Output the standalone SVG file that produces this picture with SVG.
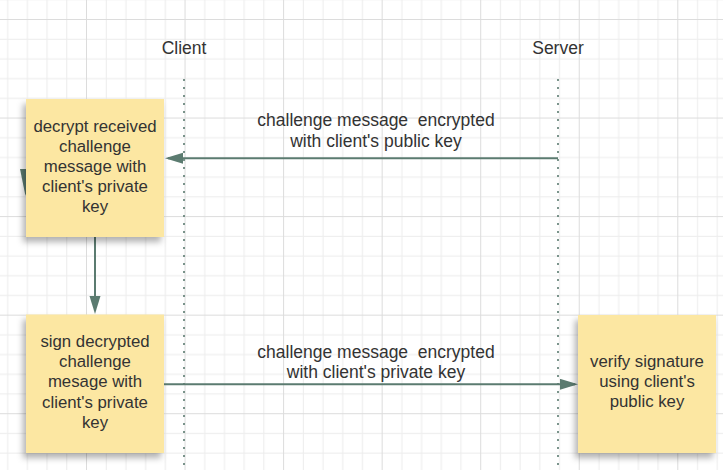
<svg xmlns="http://www.w3.org/2000/svg" width="723" height="470" viewBox="0 0 723 470">
  <defs>
    <pattern id="grid" patternUnits="userSpaceOnUse" x="86" y="19" width="98.55" height="98.55">
      <rect x="19.71" y="0" width="1" height="98.55" fill="#ececec"/>
      <rect x="39.42" y="0" width="1" height="98.55" fill="#ececec"/>
      <rect x="59.13" y="0" width="1" height="98.55" fill="#ececec"/>
      <rect x="78.84" y="0" width="1" height="98.55" fill="#ececec"/>
      <rect x="0" y="19.71" width="98.55" height="1" fill="#ececec"/>
      <rect x="0" y="39.42" width="98.55" height="1" fill="#ececec"/>
      <rect x="0" y="59.13" width="98.55" height="1" fill="#ececec"/>
      <rect x="0" y="78.84" width="98.55" height="1" fill="#ececec"/>
      <rect x="0" y="0" width="1" height="98.55" fill="#dcdcdc"/>
      <rect x="0" y="0" width="98.55" height="1" fill="#dcdcdc"/>
    </pattern>
    <filter id="shadow" x="-20%" y="-20%" width="140%" height="140%">
      <feDropShadow dx="-3" dy="5" stdDeviation="3" flood-color="#000" flood-opacity="0.3"/>
    </filter>
    <marker id="arrow" markerUnits="userSpaceOnUse" markerWidth="20" markerHeight="12" refX="15" refY="5.5" orient="auto">
      <path d="M0,0 L18,5.5 L0,11 Z" fill="#5b7b70"/>
    </marker>
  </defs>
  <style>
    .txt { font-family: "Liberation Sans", Arial, sans-serif; fill: #333333; text-anchor: middle; }
    .head { font-size: 17.5px; }
    .lbl { font-size: 17.5px; white-space: pre; }
    .note-txt { font-size: 16.8px; }
    .note { fill: #fce7a2; filter: url(#shadow); }
    .life { stroke: #5b7b70; stroke-width: 1.6; stroke-dasharray: 2 6; fill: none; }
    .conn { stroke: #5b7b70; stroke-width: 2; fill: none; }
  </style>

  <rect x="0" y="0" width="723" height="470" fill="#ffffff"/>
  <rect x="0" y="0" width="723" height="470" fill="url(#grid)"/>

  <g id="lifelines">
    <line class="life" x1="184" y1="79" x2="184" y2="470"/>
    <line class="life" x1="558" y1="79" x2="558" y2="470"/>
  </g>

  <g id="client-header">
    <text class="txt head" x="184" y="54">Client</text>
  </g>
  <g id="server-header">
    <text class="txt head" x="558" y="54">Server</text>
  </g>

  <g id="connectors">
    <polygon points="20,169 31,169 25.5,196" fill="#5b7b70"/>
    <path class="conn" d="M558,158.3 H168" marker-end="url(#arrow)"/>
    <path class="conn" d="M95,237 V311" marker-end="url(#arrow)"/>
    <path class="conn" d="M164,384.3 H575" marker-end="url(#arrow)"/>
  </g>

  <g id="label-1">
    <text class="txt lbl" x="376" y="126">challenge message  encrypted</text>
    <text class="txt lbl" x="376" y="147">with client's public key</text>
  </g>
  <g id="label-2">
    <text class="txt lbl" x="376" y="357.7">challenge message  encrypted</text>
    <text class="txt lbl" x="376" y="378.3">with client's private key</text>
  </g>

  <g id="note-decrypt">
    <rect class="note" x="26" y="99" width="138" height="138"/>
    <text class="txt note-txt" x="95" y="132.3">decrypt received</text>
    <text class="txt note-txt" x="95" y="152.2">challenge</text>
    <text class="txt note-txt" x="95" y="172">message with</text>
    <text class="txt note-txt" x="95" y="191.9">client's private</text>
    <text class="txt note-txt" x="95" y="211.7">key</text>
  </g>

  <g id="note-sign">
    <rect class="note" x="26" y="314.5" width="138" height="138.5"/>
    <text class="txt note-txt" x="95" y="346.7">sign decrypted</text>
    <text class="txt note-txt" x="95" y="367">challenge</text>
    <text class="txt note-txt" x="95" y="387.4">mesage with</text>
    <text class="txt note-txt" x="95" y="407.7">client's private</text>
    <text class="txt note-txt" x="95" y="428">key</text>
  </g>

  <g id="note-verify">
    <rect class="note" x="578" y="315" width="138" height="138"/>
    <text class="txt note-txt" x="647" y="366.7">verify signature</text>
    <text class="txt note-txt" x="647" y="386.7">using client's</text>
    <text class="txt note-txt" x="647" y="406.7">public key</text>
  </g>
</svg>
